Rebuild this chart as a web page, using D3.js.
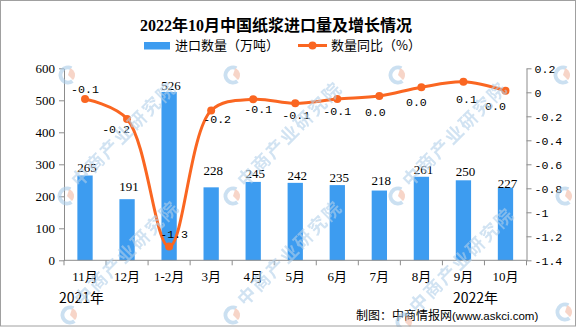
<!DOCTYPE html>
<html>
<head>
<meta charset="utf-8">
<script src="https://cdn.jsdelivr.net/npm/d3@7"></script>
<style>
  body { margin: 0; background: #fff; }
  svg { display: block; }
</style>
</head>
<body>
<svg id="chart" width="576" height="327"></svg>
<script>
// ---- data ----
const categories = ["11月", "12月", "1-2月", "3月", "4月", "5月", "6月", "7月", "8月", "9月", "10月"];
const importVolume = [265, 191, 526, 228, 245, 242, 235, 218, 261, 250, 227];   // 万吨
const yoyChange = [-0.056, -0.222, -1.286, -0.152, -0.058, -0.092, -0.056, -0.031, 0.042, 0.088, 0.013];
const volumeTicks = [0, 100, 200, 300, 400, 500, 600];
const changeTicks = [0.2, 0, -0.2, -0.4, -0.6, -0.8, -1, -1.2, -1.4];
const yearLabels = ["2021年", "2022年"];
const chartTitle = "2022年10月中国纸浆进口量及增长情况";
const legendLabels = ["进口数量（万吨）", "数量同比（%）"];
const sourceCN = "制图：中商情报网";
const sourceURL = "(www.askci.com)";
const watermarkText = "中商产业研究院";

// ---- layout ----
const W = 576, H = 327;
const plot = { left: 64, right: 526.5, top: 68.3, bottom: 260.3 };
const barColor = "#3d9cf0";
const lineColor = "#fa6621";
const axisColor = "#8c8c8c";
const numFont = "'Liberation Serif', serif";
const monoFont = "'Liberation Mono', monospace";
const cjkFont = "'Noto Sans CJK SC', sans-serif";

// nudges for value labels (label centre relative to its mark)
const lineLabelOffset = [[0, -10], [-11, 10], [5, -13], [6, 8], [5, 10], [1, 12], [0, 12], [-4, 16], [-5, 15], [3, 17], [-10, 15]];
const barLabelLift = [2, 6, 0, 10, 2, 1, 1, 4, 1, 2, -2];

const svg = d3.select("#chart");
svg.append("rect").attr("width", W).attr("height", H).attr("fill", "#fff");

const x = d3.scaleBand().domain(categories)
  .range([plot.left, plot.right]).paddingInner(0.636).paddingOuter(0.318);
const yL = d3.scaleLinear().domain([0, 600]).range([plot.bottom, plot.top]);
const yR = d3.scaleLinear().domain([-1.4, 0.2]).range([plot.bottom, plot.top]);
const cx = c => x(c) + x.bandwidth() / 2;
const fmt1 = d3.formatLocale({ decimal: ".", thousands: ",", grouping: [3], currency: ["", ""], minus: "-" }).format(".1f");

// ---- bars ----
svg.append("g").selectAll("rect").data(importVolume).join("rect")
  .attr("x", (d, i) => x(categories[i]))
  .attr("y", d => yL(d))
  .attr("width", x.bandwidth())
  .attr("height", d => yL(0) - yL(d))
  .attr("fill", barColor);

svg.append("g").selectAll("text").data(importVolume).join("text")
  .attr("x", (d, i) => cx(categories[i]) + 2)
  .attr("y", (d, i) => yL(d) - 2 - barLabelLift[i])
  .attr("text-anchor", "middle")
  .attr("font-family", numFont).attr("font-size", 13).attr("fill", "#000")
  .text(d => d);

// ---- axes ----
const gl = svg.append("g").attr("transform", `translate(${plot.left},0)`)
  .call(d3.axisLeft(yL).tickValues(volumeTicks).tickSize(5).tickPadding(4).tickSizeOuter(0));
const gr = svg.append("g").attr("transform", `translate(${plot.right},0)`)
  .call(d3.axisRight(yR).tickValues(changeTicks).tickSize(5).tickPadding(3).tickSizeOuter(0)
    .tickFormat(d => String(+d.toFixed(1)).replace("\u2212", "-")));
[gl, gr].forEach(g => {
  g.selectAll("path, line").attr("stroke", axisColor);
  g.selectAll("text").attr("fill", "#000").attr("font-size", 13);
});
gl.selectAll("text").attr("font-family", numFont);
gr.selectAll("text").attr("font-family", monoFont).attr("font-size", 11.6);

// category axis: baseline with ticks at band boundaries
const gb = svg.append("g");
gb.append("line").attr("x1", plot.left).attr("x2", plot.right)
  .attr("y1", plot.bottom).attr("y2", plot.bottom).attr("stroke", axisColor);
gb.selectAll(".tk").data(d3.range(categories.length + 1)).join("line")
  .attr("x1", i => plot.left + i * x.step()).attr("x2", i => plot.left + i * x.step())
  .attr("y1", plot.bottom).attr("y2", plot.bottom + 5).attr("stroke", axisColor);
gb.selectAll("text").data(categories).join("text")
  .attr("x", d => cx(d)).attr("y", 281)
  .attr("text-anchor", "middle")
  .attr("font-family", "'Liberation Serif', 'Noto Sans CJK SC', serif").attr("font-size", 13)
  .text(d => d);

svg.append("text").attr("x", 59).attr("y", 303)
  .attr("font-family", cjkFont).attr("font-size", 14).text(yearLabels[0]);
svg.append("text").attr("x", 453).attr("y", 303)
  .attr("font-family", cjkFont).attr("font-size", 14).text(yearLabels[1]);

// ---- YoY line ----
const linePts = yoyChange.map((v, i) => [cx(categories[i]), yR(v)]);
svg.append("path").datum(linePts)
  .attr("d", d3.line().curve(d3.curveCatmullRom.alpha(0.5)))
  .attr("fill", "none").attr("stroke", lineColor).attr("stroke-width", 3)
  .attr("stroke-linejoin", "round");
svg.append("g").selectAll("circle").data(linePts).join("circle")
  .attr("cx", d => d[0]).attr("cy", d => d[1]).attr("r", 4).attr("fill", lineColor);
svg.append("g").selectAll("text").data(yoyChange).join("text")
  .attr("x", (d, i) => linePts[i][0] + lineLabelOffset[i][0])
  .attr("y", (d, i) => linePts[i][1] + lineLabelOffset[i][1])
  .attr("dy", "0.35em")
  .attr("text-anchor", "middle")
  .attr("font-family", monoFont).attr("font-size", 11.6).attr("fill", "#000")
  .text(d => fmt1(d));

// ---- title & legend ----
svg.append("text").attr("x", 276).attr("y", 31).attr("text-anchor", "middle")
  .attr("font-family", "'Liberation Serif', 'Noto Sans CJK SC', serif")
  .attr("font-weight", "bold").attr("font-size", 16).text(chartTitle);

svg.append("rect").attr("x", 144).attr("y", 42).attr("width", 26).attr("height", 7.5).attr("fill", barColor);
svg.append("text").attr("x", 175).attr("y", 50).attr("font-family", cjkFont).attr("font-size", 13).text(legendLabels[0]);
svg.append("line").attr("x1", 298).attr("x2", 327).attr("y1", 45.5).attr("y2", 45.5)
  .attr("stroke", lineColor).attr("stroke-width", 3);
svg.append("circle").attr("cx", 312.5).attr("cy", 45.5).attr("r", 4).attr("fill", lineColor);
svg.append("text").attr("x", 331).attr("y", 50).attr("font-family", cjkFont).attr("font-size", 13).text(legendLabels[1]);

// ---- source note ----
const src = svg.append("text").attr("x", 356).attr("y", 320).attr("fill", "#000");
src.append("tspan").attr("font-family", cjkFont).attr("font-size", 12).text(sourceCN);
src.append("tspan").attr("font-family", "'Liberation Sans', sans-serif").attr("font-size", 11.5).text(sourceURL);

// ---- watermark: logo grid, with the slogan where it fits on the canvas ----
const marks = [
  [68, 75, false], [233, 75, false], [398, 75, false], [563, 75, false],
  [67, 196, true], [233, 196, true], [398, 196, true], [565, 196, false],
  [70, 315, true], [233, 315, true], [405, 322, true], [565, 312, false]
];
const wm = svg.append("g").attr("opacity", 0.6).attr("pointer-events", "none");
const arc = d3.arc();
marks.forEach(([mx, my, withText]) => {
  const g = wm.append("g").attr("transform", `translate(${mx},${my})`);
  g.append("path").attr("d", arc({ innerRadius: 5.5, outerRadius: 9.5, startAngle: Math.PI * 0.8, endAngle: Math.PI * 2.15 }))
    .attr("fill", "#a9cbe8");
  g.append("path").attr("d", arc({ innerRadius: 0, outerRadius: 7, startAngle: Math.PI * 0.1, endAngle: Math.PI * 0.75 }))
    .attr("fill", "#f2b9a4");
  if (withText) {
    g.append("text").attr("transform", "translate(12,-8) rotate(-45)")
      .attr("font-family", cjkFont).attr("font-weight", "bold").attr("font-size", 18)
      .attr("letter-spacing", 2).attr("fill", "#b3d0ea").text(watermarkText);
  }
});

// ---- outer frame ----
svg.append("rect").attr("x", 0.5).attr("y", 0.5).attr("width", W - 1).attr("height", H - 1.5)
  .attr("fill", "none").attr("stroke", "#a0a0a0");
</script>
</body>
</html>
